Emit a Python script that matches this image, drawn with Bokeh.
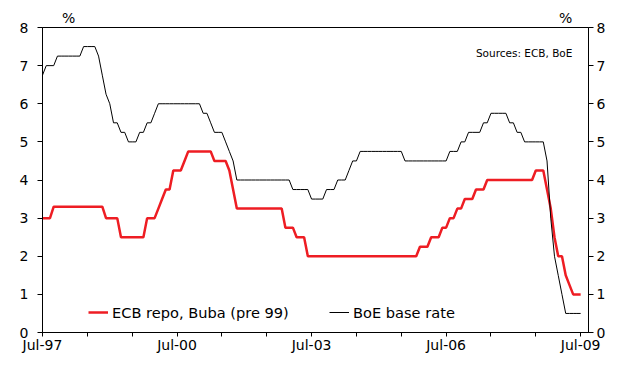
import numpy as np
import pandas as pd
from bokeh.plotting import figure
from bokeh.models import Range1d, LinearAxis, FixedTicker, Legend, LegendItem, Label
from bokeh.embed import file_html
from bokeh.resources import INLINE

# Monthly policy rates, Jul-1997 .. Jul-2009 (%)
ecb_repo = [
    3.0, 3.0, 3.0, 3.3, 3.3, 3.3,                                   # 1997 Jul-Dec
    3.3, 3.3, 3.3, 3.3, 3.3, 3.3, 3.3, 3.3, 3.3, 3.3, 3.3, 3.0,     # 1998
    3.0, 3.0, 3.0, 2.5, 2.5, 2.5, 2.5, 2.5, 2.5, 2.5, 3.0, 3.0,     # 1999
    3.0, 3.25, 3.5, 3.75, 3.75, 4.25, 4.25, 4.25, 4.5, 4.75, 4.75, 4.75,  # 2000
    4.75, 4.75, 4.75, 4.75, 4.5, 4.5, 4.5, 4.5, 4.25, 3.75, 3.25, 3.25,   # 2001
    3.25, 3.25, 3.25, 3.25, 3.25, 3.25, 3.25, 3.25, 3.25, 3.25, 3.25, 2.75,  # 2002
    2.75, 2.75, 2.5, 2.5, 2.5, 2.0, 2.0, 2.0, 2.0, 2.0, 2.0, 2.0,   # 2003
    2.0, 2.0, 2.0, 2.0, 2.0, 2.0, 2.0, 2.0, 2.0, 2.0, 2.0, 2.0,     # 2004
    2.0, 2.0, 2.0, 2.0, 2.0, 2.0, 2.0, 2.0, 2.0, 2.0, 2.0, 2.25,    # 2005
    2.25, 2.25, 2.5, 2.5, 2.5, 2.75, 2.75, 3.0, 3.0, 3.25, 3.25, 3.5,     # 2006
    3.5, 3.5, 3.75, 3.75, 3.75, 4.0, 4.0, 4.0, 4.0, 4.0, 4.0, 4.0,  # 2007
    4.0, 4.0, 4.0, 4.0, 4.0, 4.0, 4.25, 4.25, 4.25, 3.75, 3.25, 2.5,      # 2008
    2.0, 2.0, 1.5, 1.25, 1.0, 1.0, 1.0,                             # 2009 Jan-Jul
]

boe_base = [
    6.75, 7.0, 7.0, 7.0, 7.25, 7.25,                                # 1997 Jul-Dec
    7.25, 7.25, 7.25, 7.25, 7.25, 7.5, 7.5, 7.5, 7.5, 7.25, 6.75, 6.25,   # 1998
    6.0, 5.5, 5.5, 5.25, 5.25, 5.0, 5.0, 5.0, 5.25, 5.25, 5.5, 5.5,       # 1999
    5.75, 6.0, 6.0, 6.0, 6.0, 6.0, 6.0, 6.0, 6.0, 6.0, 6.0, 6.0,    # 2000
    6.0, 5.75, 5.75, 5.5, 5.25, 5.25, 5.25, 5.0, 4.75, 4.5, 4.0, 4.0,     # 2001
    4.0, 4.0, 4.0, 4.0, 4.0, 4.0, 4.0, 4.0, 4.0, 4.0, 4.0, 4.0,     # 2002
    4.0, 3.75, 3.75, 3.75, 3.75, 3.75, 3.5, 3.5, 3.5, 3.5, 3.75, 3.75,    # 2003
    3.75, 4.0, 4.0, 4.0, 4.25, 4.5, 4.5, 4.75, 4.75, 4.75, 4.75, 4.75,    # 2004
    4.75, 4.75, 4.75, 4.75, 4.75, 4.75, 4.75, 4.5, 4.5, 4.5, 4.5, 4.5,    # 2005
    4.5, 4.5, 4.5, 4.5, 4.5, 4.5, 4.5, 4.75, 4.75, 4.75, 5.0, 5.0,  # 2006
    5.25, 5.25, 5.25, 5.25, 5.5, 5.5, 5.75, 5.75, 5.75, 5.75, 5.75, 5.5,  # 2007
    5.5, 5.25, 5.25, 5.0, 5.0, 5.0, 5.0, 5.0, 5.0, 4.5, 3.0, 2.0,   # 2008
    1.5, 1.0, 0.5, 0.5, 0.5, 0.5, 0.5,                              # 2009 Jan-Jul
]

months = pd.date_range("1997-07-01", periods=len(boe_base), freq="MS")
x_month = list(range(len(months)))  # months since Jul-97

x_tick_labels = ["Jul-97", "", "", "Jul-00", "", "", "Jul-03", "", "", "Jul-06", "", "", "Jul-09"]
y_ticks = [0, 1, 2, 3, 4, 5, 6, 7, 8]
unit_label = "%"
unit_label_months = [7, 140]
source_text = "Sources: ECB, BoE"

FONT = "DejaVu Sans"
RED = "#EE1D23"

p = figure(width=608, height=355, output_backend="svg", toolbar_location=None,
           x_range=Range1d(0, 146.1), y_range=Range1d(0, 8),
           min_border_left=42, min_border_right=18, min_border_top=27, min_border_bottom=21)
p.grid.visible = False
p.outline_line_color = "black"
p.outline_line_width = 1
p.background_fill_color = "white"

r_ecb = p.line(x_month, ecb_repo, line_color=RED, line_width=2.5)
r_boe = p.line(x_month, boe_base, line_color="black", line_width=1)

x_ticks = [12 * i for i in range(len(x_tick_labels))]
xa = p.xaxis[0]
xa.ticker = FixedTicker(ticks=x_ticks, minor_ticks=[])
xa.major_label_overrides = {t: lab for t, lab in zip(x_ticks, x_tick_labels)}
xa.major_tick_out = 4
xa.major_tick_in = 0
xa.major_label_standoff = 0
xa.major_label_text_font = FONT
xa.major_label_text_font_size = "14px"
xa.major_label_text_color = "black"
xa.axis_line_color = "black"
xa.major_tick_line_color = "black"

ya = p.yaxis[0]
ya.ticker = FixedTicker(ticks=y_ticks, minor_ticks=[])
ya.major_tick_out = 5
ya.major_tick_in = 0
ya.major_label_standoff = 9
ya.major_label_text_font = FONT
ya.major_label_text_font_size = "14px"
ya.major_label_text_color = "black"
ya.axis_line_color = "black"

ra = LinearAxis(ticker=FixedTicker(ticks=y_ticks, minor_ticks=[]))
ra.major_tick_out = 5
ra.major_tick_in = 0
ra.major_label_standoff = 3
ra.major_label_text_font = FONT
ra.major_label_text_font_size = "14px"
ra.major_label_text_color = "black"
ra.axis_line_color = "black"
p.add_layout(ra, "right")

# "%" unit markers above the frame, via a label-only top axis
ta = LinearAxis(ticker=FixedTicker(ticks=unit_label_months, minor_ticks=[]))
ta.major_label_overrides = {m: unit_label for m in unit_label_months}
ta.axis_line_color = None
ta.major_tick_line_color = None
ta.major_tick_out = 0
ta.major_tick_in = 0
ta.major_label_standoff = 2
ta.major_label_text_font = FONT
ta.major_label_text_font_size = "14px"
ta.major_label_text_color = "black"
p.add_layout(ta, "above")

p.add_layout(Label(x=141.8, y=7.32, text=source_text, text_align="right",
                   text_baseline="middle", text_font=FONT, text_font_size="10.5px",
                   text_color="black"))

def make_legend(label, rend, loc):
    lg = Legend(items=[LegendItem(label=label, renderers=[rend])], location=loc,
                orientation="horizontal")
    lg.border_line_color = None
    lg.background_fill_alpha = 0
    lg.padding = 0
    lg.margin = 0
    lg.glyph_width = 20
    lg.glyph_height = 20
    lg.label_height = 20
    lg.label_standoff = 4
    lg.label_text_font = FONT
    lg.label_text_font_size = "14.6px"
    lg.label_text_color = "black"
    return lg

p.add_layout(make_legend("ECB repo, Buba (pre 99)", r_ecb, (46, 10)))
p.add_layout(make_legend("BoE base rate", r_boe, (287, 10)))

open("out.html", "w").write(file_html(p, INLINE))
